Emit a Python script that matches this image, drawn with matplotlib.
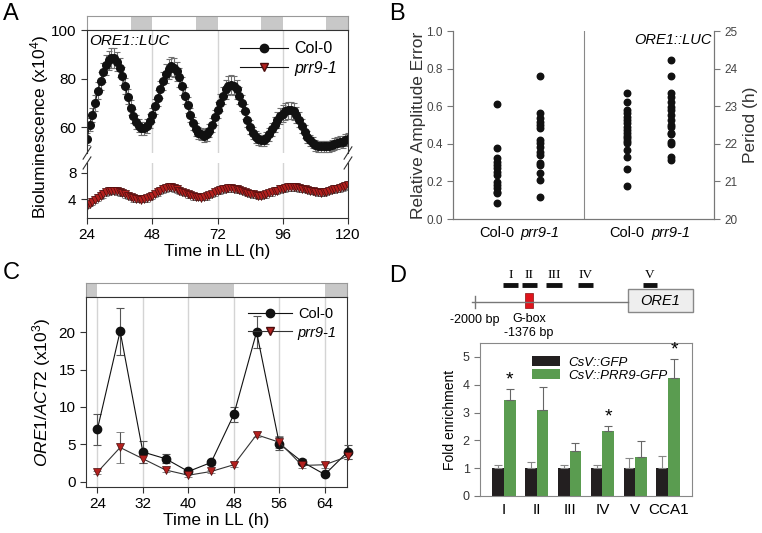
"""
ORE1 circadian figure - four panels (A-D)
"""
import matplotlib
matplotlib.use('Agg')
import matplotlib.pyplot as plt
import matplotlib.patches as mpatches
from matplotlib.lines import Line2D
import numpy as np

plt.rcParams['font.family'] = ['Liberation Sans', 'DejaVu Sans']
plt.rcParams['mathtext.fontset'] = 'custom'
plt.rcParams['mathtext.rm'] = 'Liberation Sans'
plt.rcParams['mathtext.it'] = 'Liberation Sans:italic'

# ---------------- data ----------------
# subjective nights (gray boxes)
night_start = [16, 40, 64, 88, 112]
night_end = [24, 48, 72, 96, 120]

# A: ORE1::LUC bioluminescence, hourly 24..120 h
lum_time = np.arange(24, 121)
col_lum = [55, 61, 65, 70, 75, 79, 82.5, 85.5, 87.5, 88.5, 88.5, 87,
           84.5, 81, 77, 72.5, 68, 64.5, 62, 60.5, 59.5, 59.5, 60.5, 62.5,
           65, 68.5, 72, 75.5, 79, 82, 84, 85, 84.5, 83, 80.5, 77,
           73, 69, 65, 61.5, 59, 57.5, 57, 56.5, 57, 58.5, 61, 64,
           67, 70, 73, 75.5, 77, 77.5, 77, 75.5, 73, 70, 66.5, 63,
           60, 57.5, 56, 55, 54.5, 54.5, 55.5, 57, 59, 61, 63, 64.5,
           65.5, 66.5, 67, 67, 66.5, 65, 63, 60.5, 58, 56, 54.5, 53.5,
           52.5, 52, 52, 52, 52, 52, 52.5, 53, 53.5, 54, 54, 54.5,
           55]
col_lum_err = [2.5, 2.8, 3, 3.2, 3.4, 3.6, 3.8, 4, 4, 4, 4, 3.9,
               3.8, 3.6, 3.4, 3.2, 3, 2.9, 2.8, 2.7, 2.7, 2.7, 2.8, 2.9,
               3, 3.2, 3.4, 3.6, 3.8, 3.9, 4, 4, 4, 3.9, 3.8, 3.6,
               3.4, 3.2, 3, 2.8, 2.6, 2.5, 2.5, 2.5, 2.6, 2.7, 2.9, 3.1,
               3.3, 3.5, 3.7, 3.8, 3.9, 4, 3.9, 3.8, 3.6, 3.4, 3.2, 3,
               2.8, 2.6, 2.5, 2.4, 2.4, 2.4, 2.5, 2.6, 2.8, 3, 3.2, 3.3,
               3.4, 3.5, 3.5, 3.5, 3.4, 3.3, 3.1, 2.9, 2.7, 2.5, 2.4, 2.3,
               2.2, 2.2, 2.2, 2.2, 2.2, 2.2, 2.3, 2.3, 2.4, 2.4, 2.5, 2.5,
               2.5]
prr_lum = [3.0, 3.3, 3.6, 3.9, 4.2, 4.5, 4.8, 5.0, 5.2, 5.3, 5.3, 5.2,
           5.1, 4.9, 4.7, 4.5, 4.3, 4.1, 4.0, 4.0, 3.9, 4.0, 4.1, 4.3,
           4.5, 4.8, 5.0, 5.3, 5.5, 5.7, 5.9, 5.8, 5.7, 5.5, 5.3, 5.1,
           4.9, 4.7, 4.6, 4.4, 4.3, 4.3, 4.2, 4.3, 4.4, 4.6, 4.8, 5.0,
           5.2, 5.4, 5.5, 5.6, 5.7, 5.7, 5.6, 5.5, 5.4, 5.2, 5.1, 4.9,
           4.8, 4.7, 4.6, 4.5, 4.4, 4.6, 4.7, 4.9, 5.0, 5.2, 5.3, 5.5,
           5.6, 5.7, 5.8, 5.9, 5.9, 5.8, 5.7, 5.6, 5.5, 5.4, 5.3, 5.2,
           5.1, 5.0, 4.9, 5.0, 5.1, 5.3, 5.4, 5.5, 5.6, 5.7, 5.8, 6.0,
           6.1]
prr_lum_err = [0.4, 0.4, 0.5, 0.5, 0.5, 0.5, 0.6, 0.6, 0.6, 0.6, 0.6, 0.6,
               0.6, 0.5, 0.5, 0.5, 0.5, 0.5, 0.4, 0.4, 0.4, 0.4, 0.5, 0.5,
               0.5, 0.5, 0.5, 0.6, 0.6, 0.6, 0.6, 0.6, 0.6, 0.6, 0.5, 0.5,
               0.5, 0.5, 0.5, 0.5, 0.4, 0.4, 0.4, 0.4, 0.5, 0.5, 0.5, 0.5,
               0.5, 0.6, 0.6, 0.6, 0.6, 0.6, 0.6, 0.6, 0.5, 0.5, 0.5, 0.5,
               0.5, 0.5, 0.5, 0.5, 0.4, 0.5, 0.5, 0.5, 0.5, 0.5, 0.6, 0.6,
               0.6, 0.6, 0.6, 0.6, 0.6, 0.6, 0.6, 0.6, 0.5, 0.5, 0.5, 0.5,
               0.5, 0.5, 0.5, 0.5, 0.5, 0.5, 0.5, 0.6, 0.6, 0.6, 0.6, 0.6,
               0.6]

# B: relative amplitude error and period
col_rae = [0.61, 0.376, 0.323, 0.305, 0.287, 0.27, 0.252, 0.234, 0.198,
           0.181, 0.163, 0.145, 0.14, 0.083]
prr_rae = [0.76, 0.562, 0.535, 0.518, 0.5, 0.482, 0.42, 0.403, 0.385,
           0.358, 0.34, 0.296, 0.287, 0.243, 0.207, 0.115]
col_period = [23.34, 23.12, 22.9, 22.81, 22.72, 22.63, 22.55, 22.46, 22.37,
              22.3, 22.22, 22.15, 22.08, 22.01, 21.84, 21.66, 21.33, 20.88]
prr_period = [24.23, 23.79, 23.34, 23.25, 23.12, 22.99, 22.9, 22.77, 22.63,
              22.5, 22.45, 22.3, 22.25, 22.06, 22.0, 21.66, 21.57]
b_labels = ['Col-0', 'prr9-1', 'Col-0', 'prr9-1']

# C: ORE1/ACT2 qPCR
qpcr_time = [24, 28, 32, 36, 40, 44, 48, 52, 56, 60, 64, 68]
col_qpcr = [7.0, 20.1, 4.0, 3.1, 1.4, 2.6, 9.0, 20.0, 5.1, 2.7, 1.0, 4.0]
col_qpcr_err = [2.1, 3.1, 1.5, 0.6, 0.3, 0.3, 1.0, 2.1, 0.9, 0.3, 0.2, 0.9]
prr_qpcr = [1.3, 4.6, 3.1, 1.6, 0.9, 1.4, 2.3, 6.3, 5.3, 2.2, 2.3, 3.4]
prr_qpcr_err = [0.2, 2.1, 0.6, 0.3, 0.2, 0.2, 0.3, 0.3, 0.8, 0.3, 0.4, 0.4]

# D: ChIP fold enrichment
chip_regions = ['I', 'II', 'III', 'IV', 'V', 'CCA1']
gfp_fold = [1.0, 1.0, 1.0, 1.0, 1.0, 1.0]
gfp_err = [0.12, 0.23, 0.1, 0.1, 0.35, 0.45]
prr9gfp_fold = [3.45, 3.1, 1.62, 2.32, 1.4, 4.25]
prr9gfp_err = [0.38, 0.82, 0.27, 0.18, 0.57, 0.68]
significant = [True, False, False, True, False, True]

# D: promoter schematic (bp relative to ORE1)
promoter_start = -2035
gbox_pos = -1376
ore1_box = (-231, 520)
frag_start = [-1676, -1457, -1179, -809, -58]
frag_end = [-1503, -1283, -994, -636, 104]
frag_names = ['I', 'II', 'III', 'IV', 'V']

W, H = 762, 533
BLACK = '#111111'
RED = '#b3201e'
GREEN = '#5a9c50'
NIGHT = '#c8c8c8'
GRID = '#d4d4d4'


def px_axes(fig, left, top, right, bottom):
    return fig.add_axes([left / W, 1 - bottom / H, (right - left) / W, (bottom - top) / H])


def day_bar(ax, xlim):
    for s, e in zip(night_start, night_end):
        ax.axvspan(s, e, color=NIGHT, lw=0)
    ax.set_xlim(xlim)
    ax.set_ylim(0, 1)
    ax.set_xticks([])
    ax.set_yticks([])
    for sp in ax.spines.values():
        sp.set_color('#999999')
        sp.set_linewidth(0.8)


fig = plt.figure(figsize=(W / 100, H / 100), dpi=100)

# === Panel A ===
barA = px_axes(fig, 87, 16, 348, 30)
day_bar(barA, (24, 120))

axA = px_axes(fig, 87, 30, 348, 153)
axA2 = px_axes(fig, 87, 163, 348, 218)
for ax in (axA, axA2):
    ax.set_xlim(24, 120)
    for g in [48, 72, 96]:
        ax.axvline(g, color=GRID, lw=1, zorder=0)
    for sp in ax.spines.values():
        sp.set_color('#333333')
    ax.tick_params(direction='out', length=4, labelsize=11, color='#333333')

axA.errorbar(lum_time, col_lum, yerr=col_lum_err, fmt='o-', color=BLACK, ms=5.5,
             lw=0.8, ecolor='#707070', elinewidth=0.8, capsize=2.5, capthick=0.8)
axA2.errorbar(lum_time, prr_lum, yerr=prr_lum_err, fmt='v-', color=BLACK,
              mfc=RED, mec='#4a0d0d', mew=0.5, ms=5.5, lw=0.8,
              ecolor='#505050', elinewidth=0.8, capsize=2.5, capthick=0.8)
axA.set_ylim(49.3, 100)
axA.set_yticks([60, 80, 100])
axA.set_xticks([])
axA.spines['bottom'].set_visible(False)
axA2.set_ylim(1.1, 9.5)
axA2.set_yticks([4, 8])
axA2.set_xticks([24, 48, 72, 96, 120])
axA2.spines['top'].set_visible(False)
axA2.set_xlabel('Time in LL (h)', fontsize=12.5, labelpad=1)

# break marks
for ax, yy in ((axA, 0), (axA2, 1)):
    for xx in (0, 1):
        ax.plot([xx - 0.015, xx + 0.015], [yy - 0.05 * (1 if ax is axA else 2.2),
                                             yy + 0.05 * (1 if ax is axA else 2.2)],
                transform=ax.transAxes, color='#333333', lw=0.8, clip_on=False)

axA.text(0.01, 0.97, 'ORE1::LUC', transform=axA.transAxes, style='italic',
         fontsize=11, va='top', ha='left')
handlesA = [Line2D([], [], color=BLACK, marker='o', ms=6, lw=0.8),
            Line2D([], [], color=BLACK, marker='v', mfc=RED, mec='#4a0d0d', ms=6, lw=0.8)]
legA = axA.legend(handlesA, ['Col-0', 'prr9-1'], loc='upper right', frameon=False,
                  fontsize=11.5, handlelength=3.0, handletextpad=0.4,
                  borderaxespad=0.3, labelspacing=0.3)
legA.get_texts()[1].set_style('italic')
fig.text(40 / W, 1 - 127 / H, 'Bioluminescence (x10$^4$)', rotation=90,
         ha='center', va='center', fontsize=12.5)

# === Panel B ===
axB = px_axes(fig, 453, 31, 714, 219)
axB.scatter([1] * len(col_rae), col_rae, s=22, color=BLACK, zorder=3)
axB.scatter([2] * len(prr_rae), prr_rae, s=22, color=BLACK, zorder=3)
axB.axvline(3, color='#888888', lw=0.8)
axB.set_xlim(0, 6)
axB.set_ylim(0, 1.0)
axB.set_yticks([0, 0.2, 0.4, 0.6, 0.8, 1.0])
axB.set_yticklabels(['0.0', '0.2', '0.4', '0.6', '0.8', '1.0'])
axB.set_xticks([1, 2, 4, 5])
axB.set_xticklabels(b_labels)
for i, lab in enumerate(axB.get_xticklabels()):
    if i % 2 == 1:
        lab.set_style('italic')
axB.tick_params(axis='x', length=0, labelsize=10.5, pad=5)
axB.tick_params(axis='y', direction='out', length=4, labelsize=8.5,
                labelcolor='#444444', color='#777777')
fig.text(419 / W, 1 - 125 / H, 'Relative Amplitude Error', rotation=90,
         ha='center', va='center', fontsize=12.5, color='#333333')
axB2 = axB.twinx()
axB2.scatter([4] * len(col_period), col_period, s=22, color=BLACK, zorder=3)
axB2.scatter([5] * len(prr_period), prr_period, s=22, color=BLACK, zorder=3)
axB2.set_ylim(20, 25)
axB2.tick_params(axis='y', direction='out', length=4, labelsize=8.5,
                 labelcolor='#444444', color='#777777')
fig.text(751 / W, 1 - 125 / H, 'Period (h)', rotation=90,
         ha='center', va='center', fontsize=12.5, color='#333333')
for ax in (axB, axB2):
    ax.spines['top'].set_visible(False)
    for sp in ('left', 'right', 'bottom'):
        ax.spines[sp].set_color('#777777')
axB.text(0.99, 0.99, 'ORE1::LUC', transform=axB.transAxes, style='italic',
         fontsize=10.5, ha='right', va='top')

# === Panel C ===
barC = px_axes(fig, 86, 283, 347, 297)
day_bar(barC, (22, 67.9))

axC = px_axes(fig, 86, 297, 347, 487)
for g in [24, 32, 40, 48, 56, 64]:
    axC.axvline(g, color=GRID, lw=1, zorder=0)
axC.errorbar(qpcr_time, col_qpcr, yerr=col_qpcr_err, fmt='o-', color=BLACK, ms=6,
             lw=0.8, ecolor='#555555', elinewidth=0.8, capsize=3, capthick=0.8,
             clip_on=False, zorder=3)
axC.errorbar(qpcr_time, prr_qpcr, yerr=prr_qpcr_err, fmt='v-', color='#333333',
             mfc=RED, mec='#4a0d0d', mew=0.5, ms=6, lw=0.8,
             ecolor='#555555', elinewidth=0.8, capsize=3, capthick=0.8,
             clip_on=False, zorder=3)
axC.set_xlim(22, 67.9)
axC.set_ylim(-0.67, 24.67)
axC.set_xticks([24, 32, 40, 48, 56, 64])
axC.set_yticks([0, 5, 10, 15, 20])
axC.tick_params(direction='out', length=4, labelsize=11, color='#333333')
for sp in axC.spines.values():
    sp.set_color('#333333')
axC.set_xlabel('Time in LL (h)', fontsize=12.5, labelpad=1)
axC.set_ylabel(r'$\mathit{ORE1/ACT2}$ (x10$^3$)', fontsize=12.5, labelpad=4)
handlesC = [Line2D([], [], color=BLACK, marker='o', ms=6, lw=0.8),
            Line2D([], [], color='#333333', marker='v', mfc=RED, mec='#4a0d0d', ms=6, lw=0.8)]
legC = axC.legend(handlesC, ['Col-0', 'prr9-1'], loc='upper right', frameon=False,
                  fontsize=10.5, handlelength=3.0, handletextpad=0.4,
                  borderaxespad=0.3, labelspacing=0.3)
legC.get_texts()[1].set_style('italic')

# === Panel D: schematic ===
axS = px_axes(fig, 462, 272, 700, 340)
axS.set_xlim(-2150, 601)
axS.set_ylim(0, 1)
axS.axis('off')
axS.plot([promoter_start, ore1_box[0]], [0.56, 0.56], color='#777777', lw=1)
axS.plot([-2000, -2000], [0.47, 0.65], color='#777777', lw=1)
axS.add_patch(mpatches.Rectangle((gbox_pos - 46, 0.47), 92, 0.22,
                                 facecolor='#e0141c', edgecolor='#8a1010', lw=0.5))
axS.add_patch(mpatches.Rectangle((ore1_box[0], 0.41), ore1_box[1] - ore1_box[0], 0.34,
                                 facecolor='#eeeeee', edgecolor='#888888', lw=1))
axS.text(sum(ore1_box) / 2, 0.58, 'ORE1', style='italic', fontsize=10.5,
         ha='center', va='center')
for s, e, n in zip(frag_start, frag_end, frag_names):
    axS.plot([s, e], [0.81, 0.81], color=BLACK, lw=3.5, solid_capstyle='butt')
    axS.text((s + e) / 2, 0.96, n, fontsize=9.5, ha='center', va='center',
             family=['Liberation Serif', 'DejaVu Serif'])
axS.text(-2000, 0.29, '-2000 bp', fontsize=9, ha='center', va='center')
axS.text(gbox_pos, 0.31, 'G-box', fontsize=9, ha='center', va='center')
axS.text(gbox_pos, 0.11, '-1376 bp', fontsize=9, ha='center', va='center')

# === Panel D: bars ===
axD = px_axes(fig, 480, 343, 692, 496)
xD = np.arange(len(chip_regions))
bw = 0.36
axD.bar(xD - bw / 2, gfp_fold, bw, color='#231f20', yerr=[[0] * 6, gfp_err],
        error_kw=dict(ecolor='#888888', elinewidth=0.8, capsize=3, capthick=0.8),
        label='CsV::GFP')
axD.bar(xD + bw / 2, prr9gfp_fold, bw, color=GREEN, yerr=[[0] * 6, prr9gfp_err],
        error_kw=dict(ecolor='#666666', elinewidth=0.8, capsize=3, capthick=0.8),
        label='CsV::PRR9-GFP')
for x, v, e, sig in zip(xD, prr9gfp_fold, prr9gfp_err, significant):
    if sig:
        axD.text(x + bw / 2, v + e + 0.02, '*', fontsize=14, ha='center', va='bottom')
axD.set_xlim(-0.72, 5.72)
axD.set_ylim(0, 5.5)
axD.set_yticks([0, 1, 2, 3, 4, 5])
axD.set_xticks(xD)
axD.set_xticklabels(chip_regions)
axD.tick_params(axis='x', length=0, labelsize=11, pad=5)
axD.tick_params(axis='y', direction='out', length=4, labelsize=9,
                labelcolor='#333333', color='#777777')
for sp in axD.spines.values():
    sp.set_color('#888888')
axD.set_ylabel('Fold enrichment', fontsize=10, labelpad=4)
legD = axD.legend(loc='upper left', bbox_to_anchor=(0.19, 0.99), frameon=False,
                  fontsize=9.5, handlelength=2.1, handleheight=0.7,
                  handletextpad=0.6, labelspacing=0.05)
for t in legD.get_texts():
    t.set_style('italic')

# panel letters
for lab, x, y in (('A', 3, 3), ('B', 389, 3), ('C', 3, 262), ('D', 389, 265)):
    fig.text(x / W, 1 - y / H, lab, fontsize=17, ha='left', va='top')

fig.savefig('out.png', dpi=100)
plt.close(fig)
